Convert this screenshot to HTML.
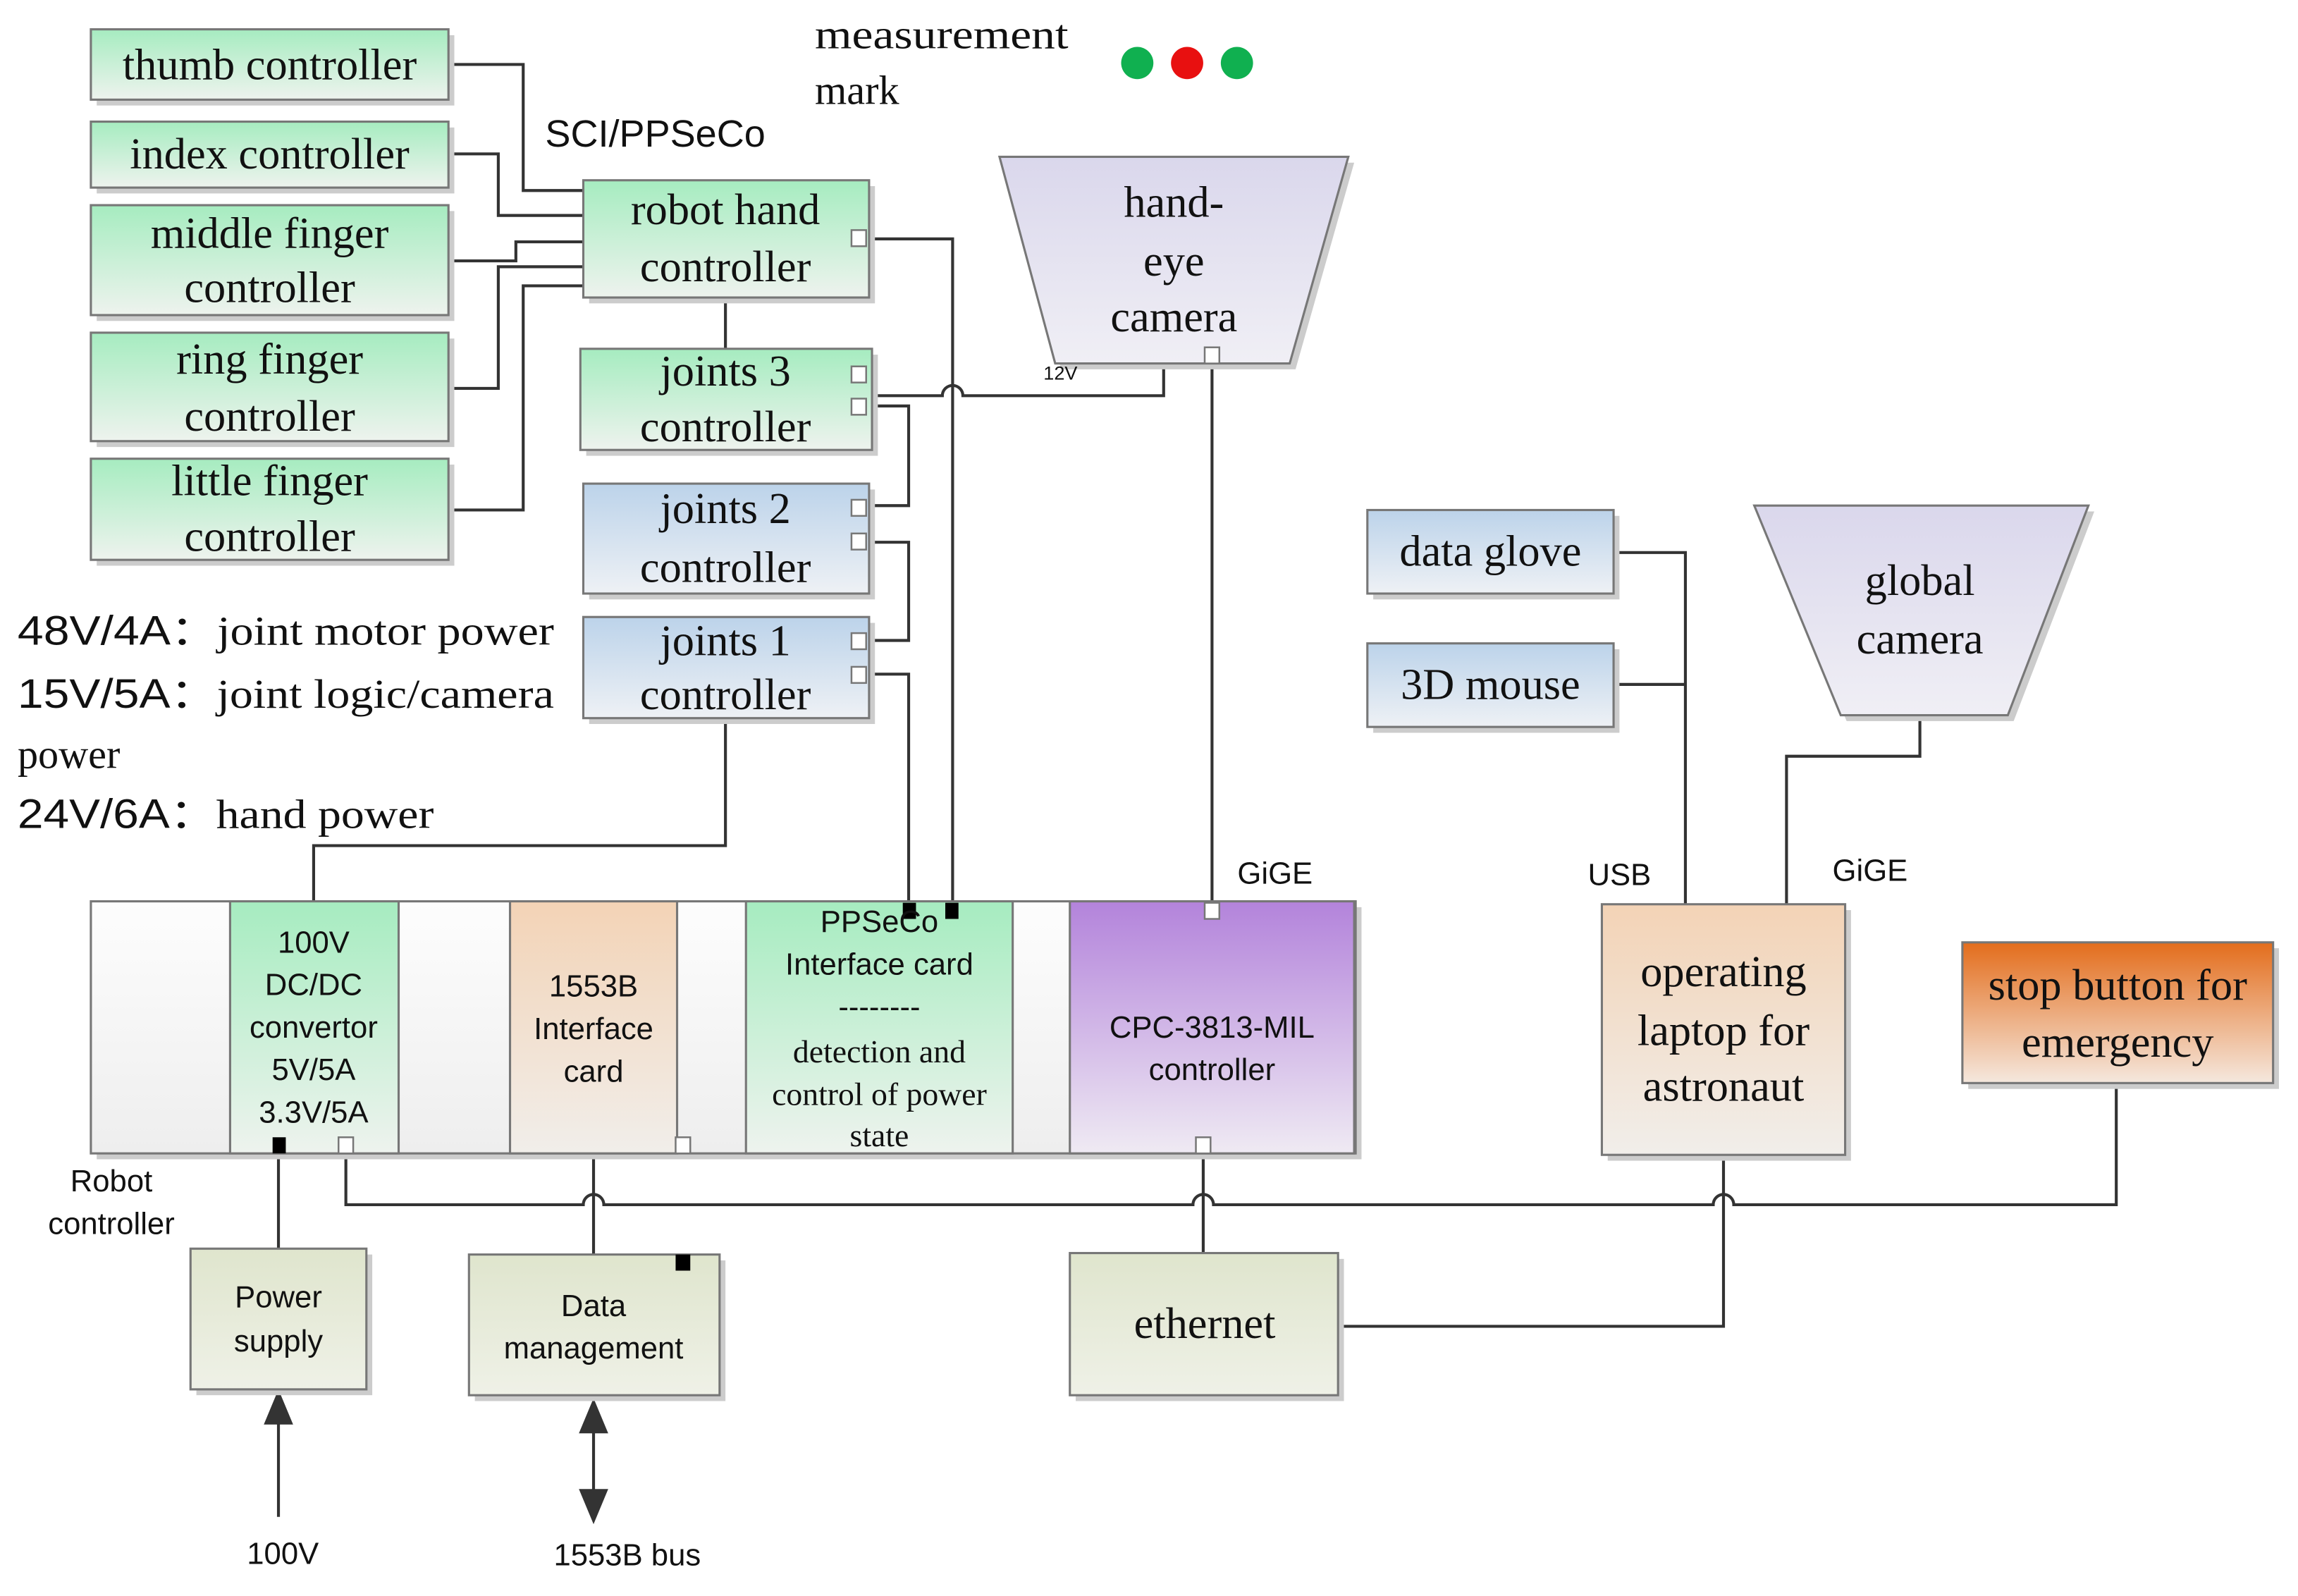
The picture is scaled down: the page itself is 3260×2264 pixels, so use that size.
<!DOCTYPE html>
<html><head><meta charset="utf-8"><style>
html,body{margin:0;padding:0;background:#fff;}
svg{display:block;}
.s{font-family:"Liberation Serif",serif;fill:#111;}
.a{font-family:"Liberation Sans",sans-serif;fill:#111;}
</style></head><body>
<svg width="3260" height="2264" viewBox="0 0 1568 1089" preserveAspectRatio="none" xmlns="http://www.w3.org/2000/svg">
<defs>
<linearGradient id="g" x1="0" y1="0" x2="0" y2="1"><stop offset="0" stop-color="#a6ecc0"/><stop offset="1" stop-color="#eef3ee"/></linearGradient>
<linearGradient id="b" x1="0" y1="0" x2="0" y2="1"><stop offset="0" stop-color="#bcd3ea"/><stop offset="1" stop-color="#eef1f5"/></linearGradient>
<linearGradient id="p" x1="0" y1="0" x2="0" y2="1"><stop offset="0" stop-color="#f3d3b6"/><stop offset="1" stop-color="#f1eeea"/></linearGradient>
<linearGradient id="v" x1="0" y1="0" x2="0" y2="1"><stop offset="0" stop-color="#b383db"/><stop offset="1" stop-color="#efeaf3"/></linearGradient>
<linearGradient id="c" x1="0" y1="0" x2="0" y2="1"><stop offset="0" stop-color="#dad7ec"/><stop offset="1" stop-color="#f0eff5"/></linearGradient>
<linearGradient id="o" x1="0" y1="0" x2="0" y2="1"><stop offset="0" stop-color="#e36d1c"/><stop offset="1" stop-color="#f5e8de"/></linearGradient>
<linearGradient id="w" x1="0" y1="0" x2="0" y2="1"><stop offset="0" stop-color="#fdfdfd"/><stop offset="1" stop-color="#eeeeee"/></linearGradient>
<linearGradient id="e" x1="0" y1="0" x2="0" y2="1"><stop offset="0" stop-color="#dfe5cd"/><stop offset="1" stop-color="#eff1e7"/></linearGradient>
</defs>
<g stroke="#333" stroke-width="2" fill="none">
<polyline points="306,44 357,44 357,130 398,130"/>
<polyline points="306,105 340,105 340,147 398,147"/>
<polyline points="306,178 352,178 352,165 398,165"/>
<polyline points="306,265 340,265 340,182 398,182"/>
<polyline points="306,348 357,348 357,195 398,195"/>
<line x1="495" y1="203" x2="495" y2="238"/>
<polyline points="587,163 650,163 650,620"/>
<path d="M595,270 L643,270 A7,7 0 0 1 657,270 L794,270 L794,248"/>
<polyline points="595,277 620,277 620,345 595,345"/>
<polyline points="595,370 620,370 620,437 595,437"/>
<polyline points="595,460 620,460 620,620"/>
<polyline points="495,490 495,577 214,577 214,615"/>
<line x1="827" y1="243" x2="827" y2="620"/>
<polyline points="1101,377 1150,377 1150,617"/>
<line x1="1101" y1="467" x2="1150" y2="467"/>
<polyline points="1310,488 1310,516 1219,516 1219,617"/>
<path d="M236,781 L236,822 L398,822 A7,7 0 0 1 412,822 L814,822 A7,7 0 0 1 828,822 L1169,822 A7,7 0 0 1 1183,822 L1444,822 L1444,739"/>
<line x1="190" y1="787" x2="190" y2="852"/>
<line x1="405" y1="787" x2="405" y2="856"/>
<line x1="821" y1="787" x2="821" y2="855"/>
<polyline points="1176,788 1176,905 913,905"/>
<line x1="190" y1="1035" x2="190" y2="960"/>
<line x1="405" y1="970" x2="405" y2="1025"/>
</g>
<polygon points="190,948 180,972 200,972" fill="#333"/>
<polygon points="405,954 395,978 415,978" fill="#333"/>
<polygon points="405,1040 395,1016 415,1016" fill="#333"/>
<g fill="#ccc">
<rect x="66" y="24" width="244" height="48"/><rect x="66" y="87" width="244" height="45"/><rect x="66" y="144" width="244" height="75"/><rect x="66" y="231" width="244" height="74"/><rect x="66" y="317" width="244" height="69"/>
<rect x="402" y="127" width="195" height="80"/><rect x="400" y="242" width="199" height="69"/><rect x="402" y="334" width="195" height="75"/><rect x="402" y="425" width="195" height="69"/>
<rect x="937" y="352" width="168" height="57"/><rect x="937" y="443" width="168" height="57"/>
<rect x="66" y="619" width="863" height="172"/><rect x="1097" y="621" width="166" height="171"/><rect x="1343" y="647" width="212" height="96"/>
<rect x="134" y="856" width="120" height="96"/><rect x="324" y="860" width="171" height="96"/><rect x="734" y="859" width="183" height="97"/>
<polygon points="686,111 924,111 884,252 724,252"/><polygon points="1201,349 1429,349 1374,492 1260,492"/>
</g>
<g stroke="#777" stroke-width="1.5">
<rect x="62" y="20" width="244" height="48" fill="url(#g)"/>
<rect x="62" y="83" width="244" height="45" fill="url(#g)"/>
<rect x="62" y="140" width="244" height="75" fill="url(#g)"/>
<rect x="62" y="227" width="244" height="74" fill="url(#g)"/>
<rect x="62" y="313" width="244" height="69" fill="url(#g)"/>
<rect x="398" y="123" width="195" height="80" fill="url(#g)"/>
<rect x="396" y="238" width="199" height="69" fill="url(#g)"/>
<rect x="398" y="330" width="195" height="75" fill="url(#b)"/>
<rect x="398" y="421" width="195" height="69" fill="url(#b)"/>
<rect x="933" y="348" width="168" height="57" fill="url(#b)"/>
<rect x="933" y="439" width="168" height="57" fill="url(#b)"/>
<polygon points="682,107 920,107 880,248 720,248" fill="url(#c)"/>
<polygon points="1197,345 1425,345 1370,488 1256,488" fill="url(#c)"/>
<rect x="62" y="615" width="863" height="172" fill="url(#w)"/>
<rect x="157" y="615" width="115" height="172" fill="url(#g)"/>
<rect x="348" y="615" width="114" height="172" fill="url(#p)"/>
<rect x="509" y="615" width="182" height="172" fill="url(#g)"/>
<rect x="730" y="615" width="194" height="172" fill="url(#v)"/>
<rect x="1093" y="617" width="166" height="171" fill="url(#p)"/>
<rect x="1339" y="643" width="212" height="96" fill="url(#o)"/>
<rect x="130" y="852" width="120" height="96" fill="url(#e)"/>
<rect x="320" y="856" width="171" height="96" fill="url(#e)"/>
<rect x="730" y="855" width="183" height="97" fill="url(#e)"/>
</g>
<g fill="#fff" stroke="#777" stroke-width="1.2">
<rect x="581" y="157" width="10" height="11"/><rect x="581" y="250" width="10" height="11"/><rect x="581" y="272" width="10" height="11"/>
<rect x="581" y="341" width="10" height="11"/><rect x="581" y="364" width="10" height="11"/><rect x="581" y="432" width="10" height="11"/><rect x="581" y="455" width="10" height="11"/>
<rect x="822" y="237" width="10" height="11"/><rect x="822" y="616" width="10" height="11"/><rect x="816" y="776" width="10" height="11"/>
<rect x="231" y="776" width="10" height="11"/><rect x="461" y="776" width="10" height="11"/>
</g>
<g fill="#000"><rect x="186" y="776" width="9" height="11"/><rect x="616" y="616" width="9" height="11"/><rect x="645" y="616" width="9" height="11"/><rect x="461" y="856" width="10" height="11"/></g>
<circle cx="776" cy="43" r="11" fill="#10b050"/><circle cx="810" cy="43" r="11" fill="#e81010"/><circle cx="844" cy="43" r="11" fill="#10b050"/>
<g class="s" font-size="30" text-anchor="middle">
<text x="184" y="54">thumb controller</text>
<text x="184" y="115">index controller</text>
<text x="184" y="169">middle finger</text><text x="184" y="206">controller</text>
<text x="184" y="255">ring finger</text><text x="184" y="294">controller</text>
<text x="184" y="338">little finger</text><text x="184" y="376">controller</text>
<text x="495" y="153">robot hand</text><text x="495" y="192">controller</text>
<text x="495" y="263">joints 3</text><text x="495" y="301">controller</text>
<text x="495" y="357">joints 2</text><text x="495" y="397">controller</text>
<text x="495" y="447">joints 1</text><text x="495" y="484">controller</text>
<text x="801" y="148">hand-</text><text x="801" y="188">eye</text><text x="801" y="226">camera</text>
<text x="1310" y="406">global</text><text x="1310" y="446">camera</text>
<text x="1017" y="386">data glove</text>
<text x="1017" y="477">3D mouse</text>
<text x="1176" y="673">operating</text><text x="1176" y="713">laptop for</text><text x="1176" y="751">astronaut</text>
<text x="1445" y="682">stop button for</text><text x="1445" y="721">emergency</text>
<text x="822" y="913">ethernet</text>
</g>
<g class="s" font-size="28">
<text x="556" y="33" textLength="173" lengthAdjust="spacingAndGlyphs">measurement</text><text x="556" y="71">mark</text>
<text x="12" y="440" textLength="366" lengthAdjust="spacingAndGlyphs"><tspan class="a">48V/4A：</tspan>joint motor power</text>
<text x="12" y="483" textLength="366" lengthAdjust="spacingAndGlyphs"><tspan class="a">15V/5A：</tspan>joint logic/camera</text>
<text x="12" y="524">power</text>
<text x="12" y="565" textLength="284" lengthAdjust="spacingAndGlyphs"><tspan class="a">24V/6A：</tspan>hand power</text>
</g>
<g class="s" font-size="22" text-anchor="middle">
<text x="600" y="725">detection and</text><text x="600" y="754">control of power</text><text x="600" y="782">state</text>
</g>
<g class="a" text-anchor="middle" font-size="21">
<text x="214" y="650">100V</text><text x="214" y="679">DC/DC</text><text x="214" y="708">convertor</text><text x="214" y="737">5V/5A</text><text x="214" y="766">3.3V/5A</text>
<text x="405" y="680">1553B</text><text x="405" y="709">Interface</text><text x="405" y="738">card</text>
<text x="600" y="636">PPSeCo</text><text x="600" y="665">Interface card</text><text x="600" y="694">--------</text>
<text x="827" y="708">CPC-3813-MIL</text><text x="827" y="737">controller</text>
<text x="190" y="892">Power</text><text x="190" y="922">supply</text>
<text x="405" y="898">Data</text><text x="405" y="927">management</text>
<text x="76" y="813">Robot</text><text x="76" y="842">controller</text>
<text x="870" y="603">GiGE</text><text x="1105" y="604">USB</text><text x="1276" y="601">GiGE</text>
<text x="193" y="1067">100V</text><text x="428" y="1068">1553B bus</text>
</g>
<text class="a" x="372" y="100" font-size="26">SCI/PPSeCo</text>
<text class="a" x="712" y="259" font-size="13">12V</text>
</svg>
</body></html>
